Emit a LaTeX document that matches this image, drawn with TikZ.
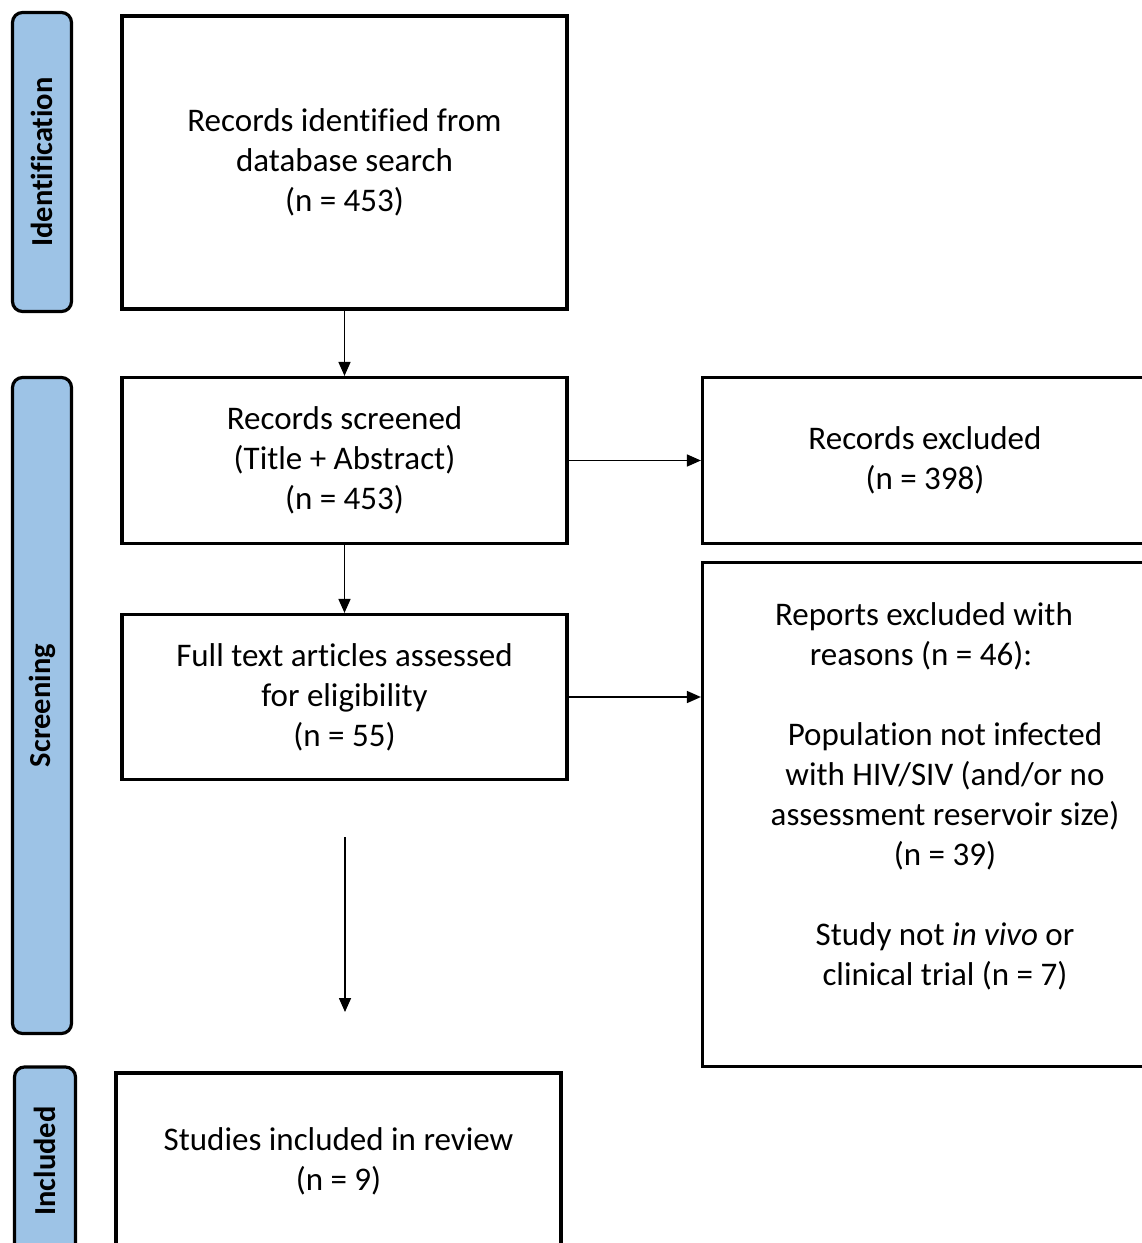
\documentclass[tikz,border=0pt]{standalone}
\usepackage{fontspec}
\setmainfont{Carlito}[Ligatures={NoCommon}]
\usetikzlibrary{positioning, arrows.meta}

\definecolor{stageblue}{HTML}{9DC3E6}

\begin{document}
\begin{tikzpicture}[
    x=1pt, y=-1pt,
    >={Triangle[length=14pt, width=12pt]},
    flow/.style={->, line width=1.6pt},
    box/.style={draw, line width=3.2pt, align=center, inner sep=0pt, font=\fontsize{33}{40}\selectfont},
    stage/.style={draw, line width=3.2pt, fill=stageblue, rounded corners=10pt, inner sep=0pt, rotate=90, font=\fontsize{30.5}{32}\selectfont\bfseries}
]

% Page frame (boxes on the right and bottom run past it)
\clip (0,0) rectangle (1142,1243);

% Stage bars
\node[stage, minimum width=299pt, minimum height=59pt] (ident) at (42,162) {Identification};
\node[stage, minimum width=656pt, minimum height=59pt] (screen) at (42,705.5) {Screening};
\node[stage, minimum width=188pt, minimum height=61pt] (incl) at (45,1161) {Included};

% Main column
\node[box, minimum width=445pt, minimum height=293pt] (found) at (344.5,162.5) {Records identified from\\database search\\(n = 453)};
\node[box, minimum width=445pt, minimum height=166pt] (screened) at (344.5,460.5) {Records screened\\(Title + Abstract)\\(n = 453)};
\node[box, minimum width=445pt, minimum height=165pt] (fulltext) at (344.5,697) {Full text articles assessed\\for eligibility\\(n = 55)};
\node[box, minimum width=445pt, minimum height=176pt] (included) at (338.5,1161) {Studies included in review\\(n = 9)};

% Exclusions
\node[box, minimum width=445pt, minimum height=166pt] (excluded) at (925,460.5) {Records excluded\\(n = 398)};
\node[box, minimum width=485pt, minimum height=504pt] (reports) at (945,814.5) {Reports excluded with\hspace*{42pt}\mbox{}\\reasons (n = 46):\hspace*{48pt}\mbox{}\\\mbox{}\\Population not infected\\with HIV/SIV (and/or no\\assessment reservoir size)\\(n = 39)\\\mbox{}\\Study not \textit{in vivo} or\\clinical trial (n = 7)\\\mbox{}};

% Free arrow towards the included box
\coordinate (gapTop) at (345,837);
\coordinate (gapEnd) at (345,1012);

% Connectors
\draw[flow] (found.south) -- (screened.north);
\draw[flow] (screened.south) -- (fulltext.north);
\draw[flow] (screened.east) -- (excluded.west);
\draw[flow] (fulltext.east) -- (fulltext.east -| reports.west);
\draw[flow] (gapTop) -- (gapEnd);

\end{tikzpicture}
\end{document}
